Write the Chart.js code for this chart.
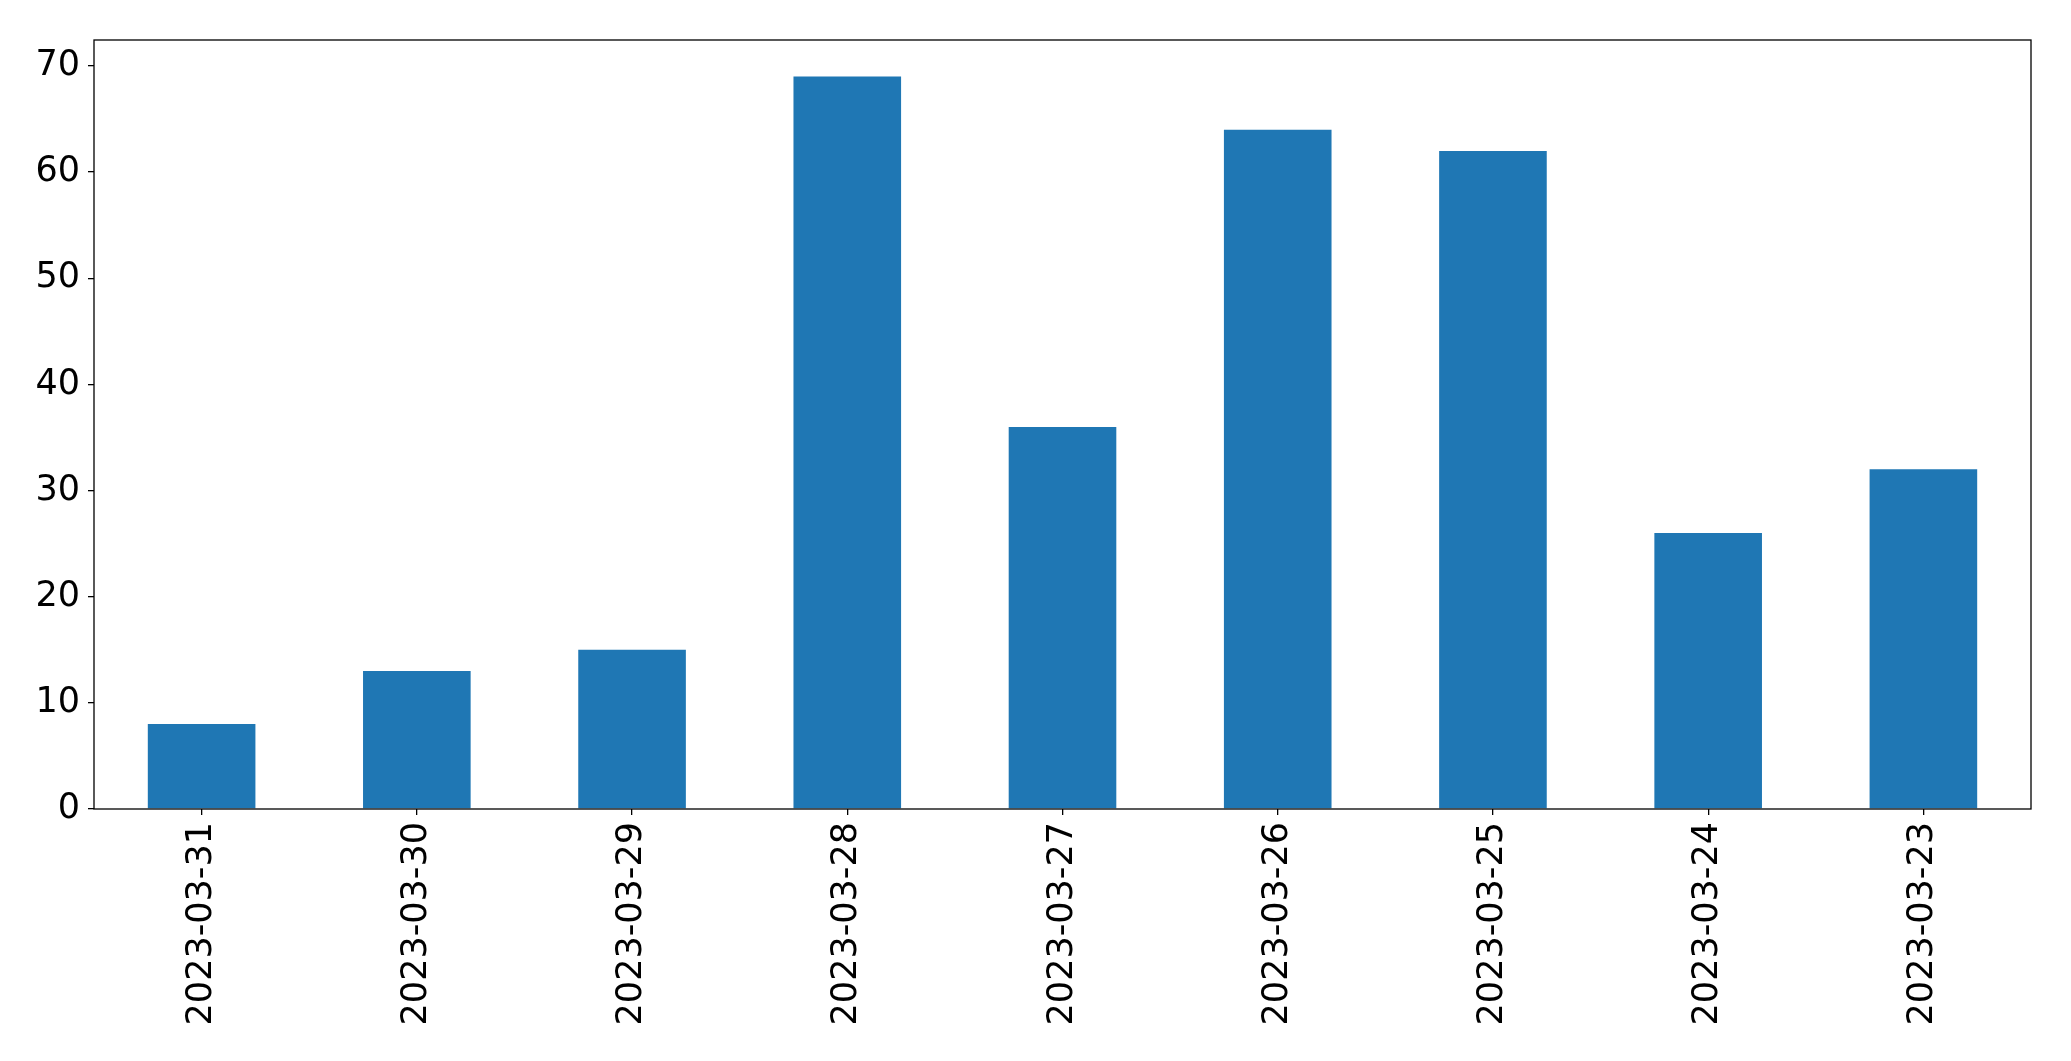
<!DOCTYPE html>
<html>
<head>
<meta charset="utf-8">
<script src="https://cdn.jsdelivr.net/npm/chart.js@4/dist/chart.umd.min.js"></script>
<style>
  body { margin: 0; background: #fff; }
  canvas { display: block; }
</style>
</head>
<body>
<canvas id="barChart" width="2071" height="1061"></canvas>
<script>
  const dates = [
    '2023-03-31', '2023-03-30', '2023-03-29', '2023-03-28', '2023-03-27',
    '2023-03-26', '2023-03-25', '2023-03-24', '2023-03-23'
  ];
  const counts = [8, 13, 15, 69, 36, 64, 62, 26, 32];
  const yTicks = [0, 10, 20, 30, 40, 50, 60, 70];

  Chart.defaults.font.family = "'DejaVu Sans', sans-serif";
  Chart.defaults.color = '#000';

  // matplotlib-style frame around the plot area
  const frame = {
    id: 'frame',
    afterDraw(chart) {
      const { ctx, chartArea: a } = chart;
      ctx.save();
      ctx.strokeStyle = '#000';
      ctx.lineWidth = 1.3;
      ctx.strokeRect(a.left, a.top, a.right - a.left, a.bottom - a.top);
      ctx.restore();
    }
  };

  const data = {
    labels: dates,
    datasets: [{
      data: counts,
      backgroundColor: '#1f77b4',
      borderWidth: 0,
      barPercentage: 0.5,
      categoryPercentage: 1.0,
    }]
  };

  const config = {
    type: 'bar',
    data: data,
    plugins: [frame],
    options: {
      responsive: false,
      animation: false,
      layout: {
        padding: { top: 40, right: 40, left: 0, bottom: 0 }
      },
      plugins: {
        legend: { display: false },
        title: { display: false },
        tooltip: { enabled: false },
      },
      scales: {
        x: {
          offset: true,
          grid: {
            display: true,
            offset: false,
            drawOnChartArea: false,
            drawTicks: true,
            tickLength: 6,
            color: '#000',
            lineWidth: 1.3,
          },
          border: { display: false },
          ticks: {
            font: { size: 35 },
            minRotation: 90,
            maxRotation: 90,
            padding: 7,
          },
          afterFit(scale) { scale.height = 252; }
        },
        y: {
          min: 0,
          max: 72.45,
          grid: {
            display: true,
            drawOnChartArea: false,
            drawTicks: true,
            tickLength: 6,
            color: '#000',
            lineWidth: 1.3,
          },
          border: { display: false },
          ticks: {
            font: { size: 35 },
            padding: 8,
          },
          afterBuildTicks(scale) {
            scale.ticks = yTicks.map(v => ({ value: v }));
          },
          afterFit(scale) { scale.width = 94; }
        }
      }
    }
  };

  const chart = new Chart(document.getElementById('barChart'), config);
</script>
</body>
</html>
